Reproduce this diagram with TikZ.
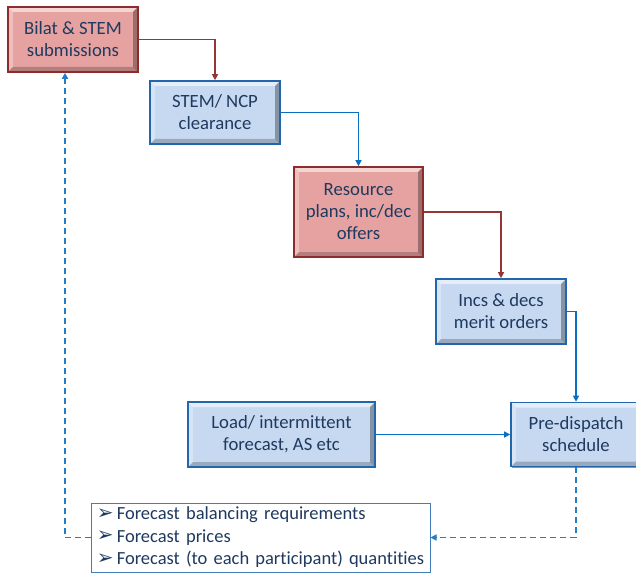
\documentclass[tikz,border=0pt]{standalone}
\usepackage{fontspec}
\setmainfont[Ligatures={NoCommon,NoContextual}]{Carlito}
\newfontfamily\symfont{DejaVu Sans}
\usetikzlibrary{arrows.meta,shadows}

\definecolor{txtnavy}{HTML}{1F3A5F}
\definecolor{pinkfill}{HTML}{E6A2A1}
\definecolor{pinkline}{HTML}{8C2D2B}
\definecolor{bluefill}{HTML}{C6D9F1}
\definecolor{blueline}{HTML}{2266AE}
\definecolor{redlink}{HTML}{943634}
\definecolor{bluelink}{HTML}{0A6FC0}

\tikzset{
  % bevelled edge: light on top/left, dark on bottom/right
  bevel/.style={path picture={
    \fill[white,opacity=.55]
      (path picture bounding box.north west) -- (path picture bounding box.north east)
      -- ([shift={(-5bp,-5bp)}]path picture bounding box.north east)
      -- ([shift={(5bp,-5bp)}]path picture bounding box.north west) -- cycle;
    \fill[white,opacity=.3]
      (path picture bounding box.north west) -- (path picture bounding box.south west)
      -- ([shift={(5bp,5bp)}]path picture bounding box.south west)
      -- ([shift={(5bp,-5bp)}]path picture bounding box.north west) -- cycle;
    \fill[black,opacity=.22]
      (path picture bounding box.south west) -- (path picture bounding box.south east)
      -- ([shift={(-5bp,5bp)}]path picture bounding box.south east)
      -- ([shift={(5bp,5bp)}]path picture bounding box.south west) -- cycle;
    \fill[black,opacity=.32]
      (path picture bounding box.north east) -- (path picture bounding box.south east)
      -- ([shift={(-5bp,5bp)}]path picture bounding box.south east)
      -- ([shift={(-5bp,-5bp)}]path picture bounding box.north east) -- cycle;
  }},
  procbox/.style={rectangle, bevel, line width=1.6bp, align=center,
    text=txtnavy, inner sep=2bp,
    font=\fontsize{18.7bp}{22bp}\selectfont,
    drop shadow={shadow xshift=1.2bp, shadow yshift=-1.2bp, opacity=.6, fill=black!70}},
  redbox/.style={procbox, fill=pinkfill, draw=pinkline},
  bluebox/.style={procbox, fill=bluefill, draw=blueline},
  listbox/.style={rectangle, draw=blueline!85, line width=1bp, fill=white,
    align=left, text=txtnavy, inner sep=0pt,
    font=\fontsize{18.5bp}{22.5bp}\selectfont},
  redlinkline/.style={draw=redlink, line width=1.2bp,
    -{Triangle[length=6bp,width=6bp]}},
  bluelinkline/.style={draw=bluelink, line width=1.2bp,
    -{Triangle[length=6bp,width=6bp]}},
  feedback/.style={draw=bluelink!90, line width=1.5bp, dash pattern=on 6bp off 4bp,
    -{Triangle[length=6bp,width=6bp]}},
}

\newcommand{\bulletarrow}{\raisebox{0.5bp}{\symfont\fontsize{20bp}{20bp}\selectfont ➢}\hspace{3bp}}

\begin{document}
\begin{tikzpicture}[x=1bp,y=-1bp]
  \clip (0,0) rectangle (636,574);
  \fill[white] (0,0) rectangle (636,574);

  % process boxes
  \node[redbox, minimum width=130bp, minimum height=65bp] (bilat) at (73,39.5)
    {Bilat \& STEM\\submissions};
  \node[bluebox, minimum width=130bp, minimum height=63bp] (stem) at (215,112.5)
    {STEM/ NCP\\clearance};
  \node[redbox, minimum width=129bp, minimum height=90bp] (res) at (358.5,212)
    {Resource\\plans, inc/dec\\offers};
  \node[bluebox, minimum width=130bp, minimum height=65bp] (incs) at (501,311.5)
    {Incs \& decs\\merit orders};
  \node[bluebox, minimum width=187bp, minimum height=65bp] (load) at (281.5,434.5)
    {Load/ intermittent\\forecast, AS etc};
  \node[bluebox, minimum width=130bp, minimum height=64bp] (pre) at (576,434.5)
    {Pre-dispatch\\schedule};

  % output list
  \node[listbox, minimum width=338bp, minimum height=69bp, text width=328bp,
        inner xsep=5bp] (list) at (261,537.5)
    {\bulletarrow Forecast balancing requirements\\
     \bulletarrow Forecast prices\\
     \bulletarrow Forecast (to each participant) quantities};

  % flow connectors
  \draw[redlinkline] (bilat.east) -| (stem.north);
  \draw[bluelinkline] (stem.east) -| (res.north);
  \draw[redlinkline] (res.east) -| (incs.north);
  \draw[bluelinkline] (incs.east) -| (pre.north);
  \draw[bluelinkline] (load.east) -- (pre.west);

  % feedback loop
  \coordinate (fb) at ([xshift=-8bp]bilat.south);
  \draw[feedback] (pre.south) |- (list.east);
  \draw[feedback] (list.west) -| (fb);
\end{tikzpicture}
\end{document}
